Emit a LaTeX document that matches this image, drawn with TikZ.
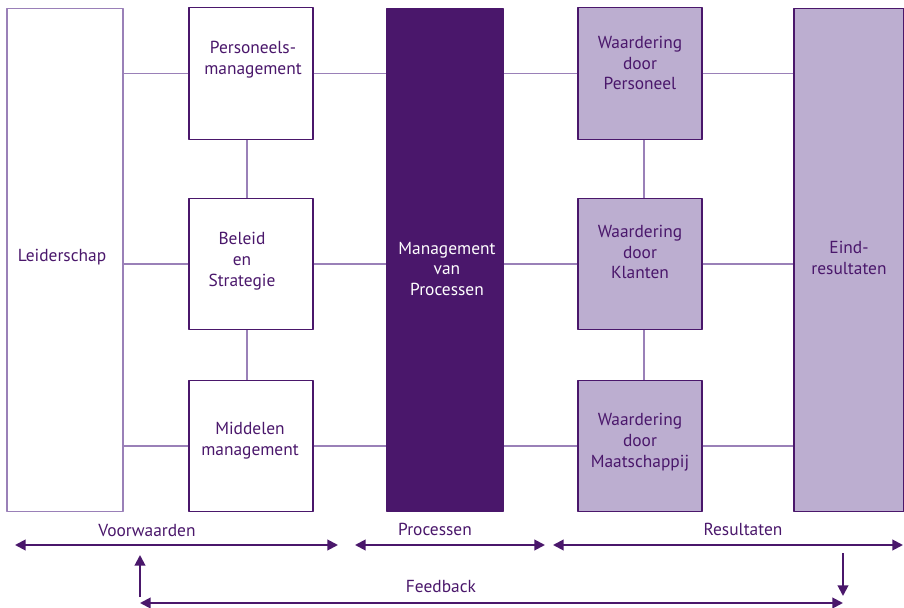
\documentclass[tikz,border=0pt]{standalone}
\usepackage{fontspec}
\setmainfont{PT Sans}
\usetikzlibrary{arrows.meta}
\definecolor{paars}{HTML}{4A176B}
\definecolor{lila}{HTML}{BCAED0}
\definecolor{lijn}{HTML}{9A80B8}

\begin{document}
\begin{tikzpicture}[x=0.02cm,y=-0.02cm,>={Triangle[length=6pt,width=6pt]},font=\fontsize{9.9}{11.9}\selectfont,line join=round]
	\tikzset{
		blok/.style={draw=paars,line width=0.6pt,minimum width=2.48cm,minimum height=2.63cm,inner sep=0pt},
		kolom/.style={line width=0.6pt,minimum width=2.32cm,minimum height=10.08cm,inner sep=0pt},
		tekst/.style={text=paars,align=center,inner sep=0pt},
		verbind/.style={draw=lijn,line width=0.6pt},
		pijl/.style={draw=paars,line width=1.1pt,<->},
	}
	\useasboundingbox (0,0) rectangle (904,608);
	
	% --- kolommen ---
	\node[kolom,draw=lijn] (lead) at (65,260) {};
	\node[kolom,draw=paars,fill=paars] (proc) at (445,260) {};
	\node[kolom,draw=paars,fill=lila,minimum width=2.2cm] (eind) at (849,260) {};
	
	% --- voorwaarden ---
	\node[blok] (pm) at (251,73.5) {};
	\node[blok] (bs) at (251,264) {};
	\node[blok] (mm) at (251,446) {};
	
	% --- resultaten ---
	\node[blok,fill=lila] (wp) at (640,73.5) {};
	\node[blok,fill=lila] (wk) at (640,264) {};
	\node[blok,fill=lila] (wm) at (640,446) {};
	
	% --- teksten in de blokken ---
	\node[tekst] (t-lead) at (62,257) {Leiderschap};
	\node[tekst] (t-pm) at (253,60) {Personeels-\\management};
	\node[tekst] (t-bs) at (242,261) {Beleid\\en\\Strategie};
	\node[tekst] (t-mm) at (250,441) {Middelen\\management};
	\node[tekst,text=white] (t-proc) at (447,269) {Management\\van\\Processen};
	\node[tekst] (t-wp) at (640,63) {Waardering\\door\\Personeel};
	\node[tekst] (t-wk) at (640,252) {Waardering\\door\\Klanten};
	\node[tekst] (t-wm) at (640,442) {Waardering\\door\\Maatschappij};
	\node[tekst] (t-eind) at (849,258) {Eind-\\resultaten};
	
	% --- verbindingen ---
	\foreach \b/\r in {pm/wp,bs/wk,mm/wm}{
		\draw[verbind] (\b.west) -- (\b.west -| lead.east);
		\draw[verbind] (\b.east) -- (\b.east -| proc.west);
		\draw[verbind] (\r.west) -- (\r.west -| proc.east);
		\draw[verbind] (\r.east) -- (\r.east -| eind.west);
	}
	\draw[verbind] ([xshift=-0.08cm]pm.south) -- ([xshift=-0.08cm]bs.north)
		([xshift=-0.08cm]bs.south) -- ([xshift=-0.08cm]mm.north);
	\draw[verbind] ([xshift=0.08cm]wp.south) -- ([xshift=0.08cm]wk.north)
		([xshift=0.08cm]wk.south) -- ([xshift=0.08cm]wm.north);
	
	% --- fasen onderaan ---
	\node[tekst] (l-v) at (147,531) {Voorwaarden};
	\node[tekst] (l-p) at (435,529) {Processen};
	\node[tekst] (l-r) at (743,529) {Resultaten};
	\node[tekst] (l-f) at (441,587) {Feedback};
	
	\coordinate (v1) at (15,545);  \coordinate (v2) at (338,545);
	\coordinate (p1) at (355,545); \coordinate (p2) at (545,545);
	\coordinate (r1) at (553,545); \coordinate (r2) at (903,545);
	\draw[pijl] (v1) -- (v2);
	\draw[pijl] (p1) -- (p2);
	\draw[pijl] (r1) -- (r2);
	
	% --- terugkoppeling ---
	\coordinate (f1) at (140,597); \coordinate (f2) at (140,555);
	\coordinate (f3) at (843,553); \coordinate (f4) at (843,596);
	\coordinate (f5) at (140,603); \coordinate (f6) at (843,603);
	\draw[pijl,->] (f1) -- (f2);
	\draw[pijl,->] (f3) -- (f4);
	\draw[pijl] (f5) -- (f6);
\end{tikzpicture}
\end{document}
